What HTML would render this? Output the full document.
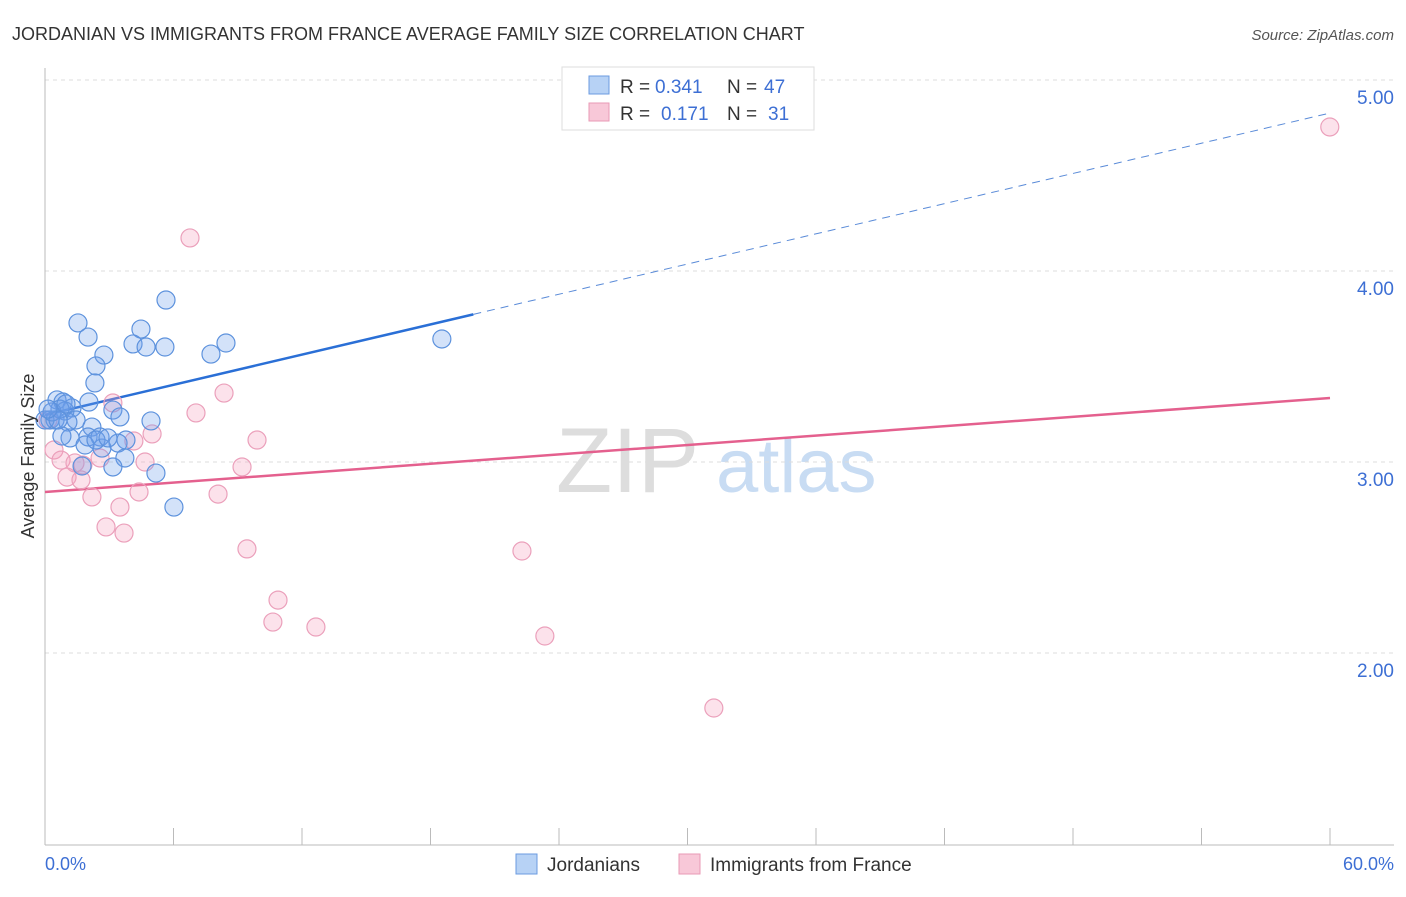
<!DOCTYPE html>
<html><head><meta charset="utf-8"><style>
body{margin:0;background:#fff;font-family:"Liberation Sans",sans-serif;}
svg text{font-family:"Liberation Sans",sans-serif;}
</style></head><body>
<svg id="chart" width="1406" height="892">
<text x="12" y="40" font-size="18" fill="#333">JORDANIAN VS IMMIGRANTS FROM FRANCE AVERAGE FAMILY SIZE CORRELATION CHART</text>
<text x="1394" y="40" font-size="15" fill="#555" font-style="italic" text-anchor="end">Source: ZipAtlas.com</text>
<text x="556" y="492" font-size="92" fill="#ddd" font-family="Liberation Serif">ZIP</text>
<text x="716" y="492" font-size="76" fill="#c8dcf3">atlas</text>
<g id="grid"></g><g id="axes"></g><g id="trend"></g><g id="pts"></g>
<text transform="translate(34,456) rotate(-90)" font-size="18" fill="#333" text-anchor="middle">Average Family Size</text>
<text x="45" y="870" font-size="18" fill="#3d6fd4">0.0%</text>
<text x="1394" y="870" font-size="18" fill="#3d6fd4" text-anchor="end">60.0%</text>
<g>
<rect x="562" y="67" width="252" height="63" fill="#fff" stroke="#ddd"/>
<rect x="589" y="76" width="20" height="18" fill="#b7d2f5" stroke="#6b9be0"/>
<text x="620" y="93" font-size="19" fill="#333">R =</text>
<text x="655" y="93" font-size="19" fill="#3d6fd4">0.341</text>
<text x="727" y="93" font-size="19" fill="#333">N =</text>
<text x="764" y="93" font-size="19" fill="#3d6fd4">47</text>
<rect x="589" y="103" width="20" height="18" fill="#f8c8d8" stroke="#e99ab6"/>
<text x="620" y="120" font-size="19" fill="#333">R =</text>
<text x="661" y="120" font-size="19" fill="#3d6fd4">0.171</text>
<text x="727" y="120" font-size="19" fill="#333">N =</text>
<text x="768" y="120" font-size="19" fill="#3d6fd4">31</text>
</g>
<g>
<rect x="516" y="854" width="21" height="20" fill="#b7d2f5" stroke="#6b9be0"/>
<text x="547" y="871" font-size="19" fill="#333">Jordanians</text>
<rect x="679" y="854" width="21" height="20" fill="#f8c8d8" stroke="#e99ab6"/>
<text x="710" y="871" font-size="19" fill="#333">Immigrants from France</text>
</g>
</svg>
<script>
const yTicks=[2,3,4,5];
const yTickLabels=["2.00","3.00","4.00","5.00"];
const xTicks=[0,6,12,18,24,30,36,42,48,54,60];
const blueX=[1.54,2.01,5.65,4.48,4.11,4.72,5.60,7.75,8.45,18.53,2.75,2.38,2.33,2.05,0.56,0.84,1.26,0.93,0.23,0.47,1.45,1.07,3.17,3.50,4.95,2.19,2.01,1.17,2.57,1.87,3.78,3.41,2.66,3.73,3.17,1.73,5.18,6.02,0.70,0.79,2.38,0.0,0.33,0.61,0.98,0.14,2.94];
const blueY=[3.728,3.654,3.848,3.696,3.618,3.602,3.602,3.565,3.623,3.644,3.560,3.503,3.414,3.314,3.325,3.314,3.283,3.267,3.220,3.220,3.220,3.209,3.272,3.236,3.215,3.183,3.131,3.126,3.131,3.089,3.115,3.099,3.073,3.021,2.974,2.979,2.942,2.764,3.277,3.136,3.115,3.220,3.262,3.220,3.304,3.277,3.126];
const pinkX=[59.99,6.77,8.36,7.05,3.17,5.00,9.90,4.15,0.42,0.75,2.57,4.67,9.20,1.40,1.77,1.03,1.68,4.39,8.08,2.19,3.50,2.85,3.69,9.43,22.27,10.88,10.64,12.65,23.34,31.23,0.14];
const pinkY=[4.754,4.173,3.361,3.257,3.309,3.147,3.115,3.110,3.063,3.010,3.021,3.000,2.974,2.995,2.984,2.921,2.906,2.843,2.832,2.817,2.764,2.660,2.628,2.545,2.534,2.277,2.162,2.136,2.089,1.712,3.220];
const blueTrend=[3.246,4.827];
const pinkTrend=[2.843,3.335];
const blueSolidEnd=20;

const NS="http://www.w3.org/2000/svg";
const xs=v=>45+v*(1330-45)/60;
const ys=v=>80+(5-v)*191;
function mk(tag,attrs,parent){const e=document.createElementNS(NS,tag);for(const k in attrs)e.setAttribute(k,attrs[k]);document.getElementById(parent).appendChild(e);return e;}
yTicks.forEach((t,i)=>{
 const g=mk('line',{x1:45,x2:1394,y1:ys(t),y2:ys(t),stroke:'#ddd','stroke-dasharray':'4,4'},'grid');
 
 
 const l=mk('text',{x:1394,y:ys(t)+24,'font-size':19,fill:'#3d6fd4','text-anchor':'end'},'grid');
 l.textContent=yTickLabels[i];
 
 
});
const ax=mk('line',{x1:45,x2:45,y1:68,y2:845,stroke:'#bbb'},'axes');


const bx=mk('line',{x1:45,x2:1394,y1:845,y2:845,stroke:'#bbb'},'axes');


xTicks.forEach(t=>{
 const k=mk('line',{x1:xs(t),x2:xs(t),y1:828,y2:845,stroke:'#bbb'},'axes');
 
 
});
const bAt=v=>blueTrend[0]+(blueTrend[1]-blueTrend[0])*v/60;
const bs=mk('line',{x1:xs(0),y1:ys(bAt(0)),x2:xs(blueSolidEnd),y2:ys(bAt(blueSolidEnd)),stroke:'#2a6fd6','stroke-width':2.5},'trend');


const bd=mk('line',{x1:xs(blueSolidEnd),y1:ys(bAt(blueSolidEnd)),x2:xs(60),y2:ys(bAt(60)),stroke:'#5a8bd8','stroke-width':1,'stroke-dasharray':'8,6'},'trend');


const pt=mk('line',{x1:xs(0),y1:ys(pinkTrend[0]),x2:xs(60),y2:ys(pinkTrend[1]),stroke:'#e4608e','stroke-width':2.5},'trend');


pinkX.forEach((x,i)=>{
 const c=mk('circle',{cx:xs(x),cy:ys(pinkY[i]),r:9,fill:'rgba(244,160,190,0.3)',stroke:'#eba0bb','stroke-width':1.2},'pts');
 
 
});
blueX.forEach((x,i)=>{
 const c=mk('circle',{cx:xs(x),cy:ys(blueY[i]),r:9,fill:'rgba(110,160,235,0.3)',stroke:'#5d92dd','stroke-width':1.2},'pts');
 
 
});
</script>
</body></html>
